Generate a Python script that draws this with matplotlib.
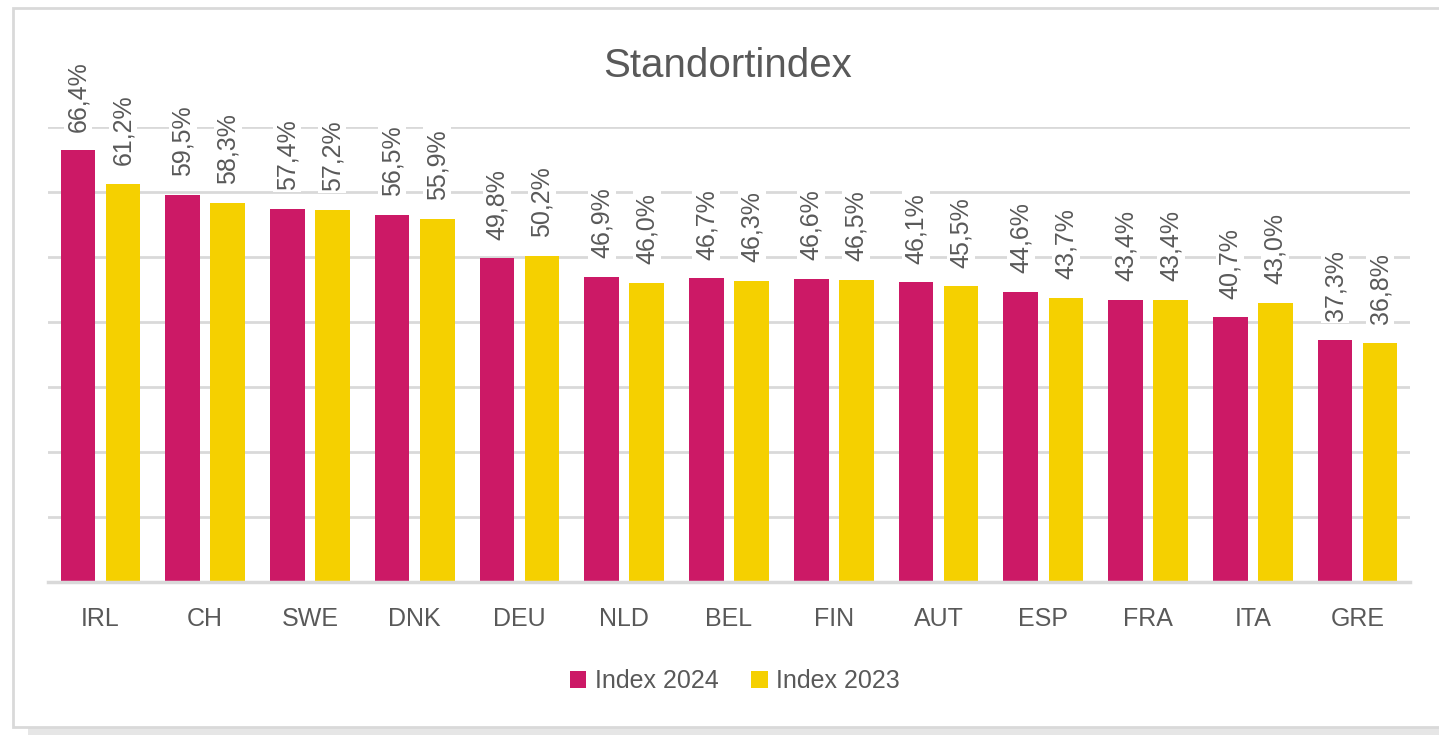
import matplotlib.pyplot as plt
import matplotlib.patches as patches
import numpy as np

plt.rcParams['font.family'] = ['Liberation Sans', 'DejaVu Sans']

# data
countries = ['IRL', 'CH', 'SWE', 'DNK', 'DEU', 'NLD', 'BEL', 'FIN', 'AUT', 'ESP', 'FRA', 'ITA', 'GRE']
index_2024 = [66.4, 59.5, 57.4, 56.5, 49.8, 46.9, 46.7, 46.6, 46.1, 44.6, 43.4, 40.7, 37.3]
index_2023 = [61.2, 58.3, 57.2, 55.9, 50.2, 46.0, 46.3, 46.5, 45.5, 43.7, 43.4, 43.0, 36.8]

magenta = '#CC1966'
yellow = '#F5D000'
txt = '#595959'
grid = '#D9D9D9'

fig = plt.figure(figsize=(14.39, 7.35), dpi=100)
W, H = 1439, 735

# outer frame and shadow (behind the axes)
fig.patches.append(patches.Rectangle((28 / W, 0), 1.0, 8 / H, transform=fig.transFigure,
                                     facecolor='#E6E6E6', edgecolor='none', zorder=-3))
fig.patches.append(patches.Rectangle((13.5 / W, 8 / H), 1.0, (727.5 - 8) / H, transform=fig.transFigure,
                                     facecolor='white', edgecolor='#D9D9D9', linewidth=2, zorder=-2))

ax = fig.add_axes([48 / W, (735 - 582) / H, (1410 - 48) / W, (582 - 127) / H])
ax.set_facecolor('none')

x = np.arange(len(countries))
bw = 0.33
off = 0.215
b1 = ax.bar(x - off, index_2024, bw, color=magenta, label='Index 2024', zorder=2)
b2 = ax.bar(x + off, index_2023, bw, color=yellow, label='Index 2023', zorder=2)

for bars, vals in ((b1, index_2024), (b2, index_2023)):
    for rect, v in zip(bars, vals):
        ax.annotate(f'{v:.1f}%'.replace('.', ','),
                    (rect.get_x() + rect.get_width() / 2, v),
                    xytext=(0, 13.5), textcoords='offset points',
                    rotation=90, ha='center', va='bottom', fontsize=18, color=txt,
                    bbox=dict(facecolor='white', edgecolor='none', pad=1.5), zorder=3)

ax.set_xlim(-0.5, len(countries) - 0.5)
ax.set_ylim(0, 70)
ax.set_yticks(np.arange(0, 71, 10))
ax.yaxis.grid(True, color=grid, linewidth=2, zorder=0)
ax.set_axisbelow(True)
ax.tick_params(axis='y', left=False, labelleft=False)
ax.set_xticks(x)
ax.set_xticklabels(countries, fontsize=18, color=txt)
ax.tick_params(axis='x', length=0, pad=18)
for s in ['top', 'left', 'right']:
    ax.spines[s].set_visible(False)
ax.spines['bottom'].set_color(grid)
ax.spines['bottom'].set_linewidth(2.5)

fig.text(728 / W, (735 - 66) / H, 'Standortindex', ha='center', va='center', fontsize=29, color=txt)

fig.legend(handles=[b1, b2], loc='center', bbox_to_anchor=(735 / W, (735 - 681) / H),
           ncol=2, frameon=False, fontsize=18, labelcolor=txt,
           handlelength=0.65, handleheight=0.65, handletextpad=0.35, columnspacing=1.3)

plt.savefig('out.png', dpi=100)
